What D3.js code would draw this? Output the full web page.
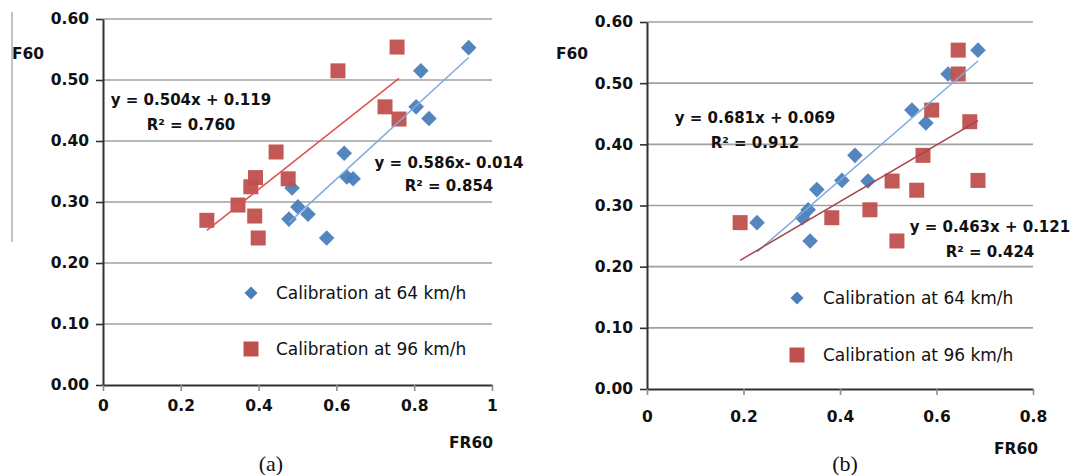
<!DOCTYPE html>
<html><head><meta charset="utf-8">
<script src="https://cdn.jsdelivr.net/npm/d3@7"></script>
<style>
html,body{margin:0;padding:0;background:#fff;}
svg{display:block;}
</style></head>
<body>
<svg id="chart" width="1071" height="475"></svg>
<script>
// ---------- DATA ----------
// Panel (a): [FR60, F60]
const a64 = [[0.940,0.553],[0.817,0.515],[0.805,0.456],[0.838,0.437],[0.620,0.380],[0.627,0.341],[0.643,0.338],[0.486,0.323],[0.501,0.292],[0.527,0.280],[0.478,0.272],[0.575,0.241]];
const a96 = [[0.267,0.270],[0.347,0.295],[0.380,0.325],[0.392,0.340],[0.390,0.277],[0.399,0.241],[0.445,0.382],[0.476,0.338],[0.604,0.515],[0.725,0.456],[0.761,0.436],[0.756,0.554]];
// Panel (b)
const b64 = [[0.686,0.554],[0.624,0.515],[0.549,0.456],[0.578,0.435],[0.431,0.382],[0.404,0.341],[0.458,0.340],[0.352,0.326],[0.334,0.293],[0.322,0.280],[0.228,0.272],[0.338,0.242]];
const b96 = [[0.645,0.554],[0.645,0.515],[0.590,0.456],[0.669,0.437],[0.572,0.382],[0.508,0.340],[0.559,0.325],[0.686,0.341],[0.462,0.293],[0.383,0.280],[0.518,0.242],[0.193,0.272]];
// Trendlines [slope, intercept]
const fitA64 = [0.586, -0.014];
const fitA96 = [0.504, 0.119];
const fitB64 = [0.681, 0.069];
const fitB96 = [0.463, 0.121];
// Equation labels
const eqA64 = ["y = 0.586x- 0.014", "R² = 0.854"];
const eqA96 = ["y = 0.504x + 0.119", "R² = 0.760"];
const eqB64 = ["y = 0.681x + 0.069", "R² = 0.912"];
const eqB96 = ["y = 0.463x + 0.121", "R² = 0.424"];
// Ticks
const yTicks = [0, 0.1, 0.2, 0.3, 0.4, 0.5, 0.6];
const yTickLabels = ["0.00","0.10","0.20","0.30","0.40","0.50","0.60"];
const xTicksA = [0, 0.2, 0.4, 0.6, 0.8, 1];
const xTickLabelsA = ["0","0.2","0.4","0.6","0.8","1"];
const xTicksB = [0, 0.2, 0.4, 0.6, 0.8];
const xTickLabelsB = ["0","0.2","0.4","0.6","0.8"];
const legendLabels = ["Calibration at 64 km/h", "Calibration at 96 km/h"];

// ---------- STYLE ----------
const BLUE = "#4a7ebb", RED = "#c0504d";
const FONT = "'DejaVu Sans', Verdana, sans-serif";
const svg = d3.select("#chart");

// decorative vertical line at left of panel (a)
svg.append("line").attr("x1",12).attr("x2",12).attr("y1",12).attr("y2",242)
  .attr("stroke","#9a9a9a").attr("stroke-width",1.2);

function diamondPath(r){ return `M0,${-r}L${r},0L0,${r}L${-r},0Z`; }
function squarePath(h){ return `M${-h},${-h}H${h}V${h}H${-h}Z`; }

function panel(o){
  const g = svg.append("g");
  const x = d3.scaleLinear().domain([0, o.xMax]).range([o.x0, o.x1]);
  const y = d3.scaleLinear().domain([0, 0.6]).range([o.yB, o.yT]);

  // gridlines
  g.append("g").selectAll("line").data(yTicks.slice(1)).join("line")
    .attr("x1", o.x0).attr("x2", o.x1)
    .attr("y1", d=>y(d)).attr("y2", d=>y(d))
    .attr("stroke","#a0a0a0").attr("stroke-width",1.6);

  // y axis
  const ya = g.append("g").attr("transform",`translate(${o.x0},0)`)
    .call(d3.axisLeft(y).tickValues(yTicks).tickFormat((d,i)=>yTickLabels[i]).tickSizeInner(7).tickSizeOuter(0).tickPadding(7));
  ya.select(".domain").attr("stroke","#303030").attr("stroke-width",2);
  ya.selectAll(".tick line").attr("stroke","#303030").attr("stroke-width",1.6);
  ya.selectAll(".tick text").attr("font-family",FONT).attr("font-weight","bold")
    .attr("font-size",15.5).attr("fill","#111");

  // x axis
  const xa = g.append("g").attr("transform",`translate(0,${o.yB})`)
    .call(d3.axisBottom(x).tickValues(o.xTicks).tickFormat((d,i)=>o.xLabels[i]).tickSizeInner(6).tickSizeOuter(0).tickPadding(o.xPad));
  xa.select(".domain").attr("stroke","#303030").attr("stroke-width",2);
  xa.selectAll(".tick line").attr("stroke","#8c8c8c").attr("stroke-width",1.6);
  xa.selectAll(".tick text").attr("font-family",FONT).attr("font-weight","bold")
    .attr("font-size",15.5).attr("fill","#111");

  // markers: 64 km/h diamonds then 96 km/h squares
  g.append("g").selectAll("path").data(o.s64).join("path")
    .attr("d", diamondPath(7.8))
    .attr("transform", d=>`translate(${x(d[0])},${y(d[1])})`)
    .attr("fill", BLUE).attr("fill-opacity",0.95);
  g.append("g").selectAll("path").data(o.s96).join("path")
    .attr("d", squarePath(7.5))
    .attr("transform", d=>`translate(${x(d[0])},${y(d[1])})`)
    .attr("fill", RED).attr("fill-opacity",0.95);

  // trendlines
  function trend(data, fit, color){
    const ext = d3.extent(data, d=>d[0]);
    const line = d3.line().x(d=>x(d)).y(d=>y(fit[0]*d+fit[1]));
    g.append("path").datum(ext).attr("d", line)
      .attr("fill","none").attr("stroke",color).attr("stroke-width",1.5);
  }
  trend(o.s64, o.f64, "#7eaadf");
  trend(o.s96, o.f96, o.redLine);

  // equation labels
  function eq(lines, pos){
    lines.forEach((t,i)=>{
      g.append("text").attr("x", pos[i][0]).attr("y", pos[i][1]).attr("dy","0.36em")
        .attr("text-anchor","middle").attr("font-family",FONT).attr("font-weight","bold")
        .attr("font-size",15).attr("fill","#111").text(t);
    });
  }
  eq(o.e64, o.e64pos);
  eq(o.e96, o.e96pos);

  // legend
  const lg = g.append("g");
  lg.append("path").attr("d", diamondPath(6.5))
    .attr("transform",`translate(${o.leg[0]},${o.leg[1]})`).attr("fill",BLUE);
  lg.append("path").attr("d", squarePath(7.5))
    .attr("transform",`translate(${o.leg[0]},${o.leg[2]})`).attr("fill",RED);
  [o.leg[1], o.leg[2]].forEach((yy,i)=>{
    lg.append("text").attr("x", o.leg[3]).attr("y", yy).attr("dy","0.36em")
      .attr("font-family",FONT).attr("font-size",17).attr("fill","#111").text(legendLabels[i]);
  });

  // axis titles
  g.append("text").attr("x", o.yTitle[0]).attr("y", o.yTitle[1]).attr("dy","0.36em")
    .attr("font-family",FONT).attr("font-weight","bold").attr("font-size",15.5).attr("fill","#111").text("F60");
  g.append("text").attr("x", o.xTitle[0]).attr("y", o.xTitle[1]).attr("dy","0.36em")
    .attr("text-anchor","end")
    .attr("font-family",FONT).attr("font-weight","bold").attr("font-size",15.5).attr("fill","#111").text("FR60");
  g.append("text").attr("x", o.cap[0]).attr("y", o.cap[1]).attr("dy","0.36em")
    .attr("text-anchor","middle")
    .attr("font-family","'Liberation Serif', 'Times New Roman', serif").attr("font-size",22).attr("fill","#111").text(o.cap[2]);
}

panel({
  x0:103, x1:492, yT:19, yB:385, xMax:1, xTicks:xTicksA, xLabels:xTickLabelsA, xPad:9,
  s64:a64, s96:a96, f64:fitA64, f96:fitA96, redLine:"#e0504c",
  e64:eqA64, e64pos:[[449,163],[449,186]],
  e96:eqA96, e96pos:[[191,100],[191,125]],
  leg:[251,293,349,276], yTitle:[12,53], xTitle:[493,442], cap:[271,463,"(a)"]
});
panel({
  x0:647, x1:1033, yT:22, yB:389, xMax:0.8, xTicks:xTicksB, xLabels:xTickLabelsB, xPad:16,
  s64:b64, s96:b96, f64:fitB64, f96:fitB96, redLine:"#a8424a",
  e64:eqB64, e64pos:[[755,118],[755,143]],
  e96:eqB96, e96pos:[[990,227],[990,252]],
  leg:[797,298,355,823], yTitle:[556,53], xTitle:[1038,448], cap:[845,463,"(b)"]
});
</script>
</body></html>
